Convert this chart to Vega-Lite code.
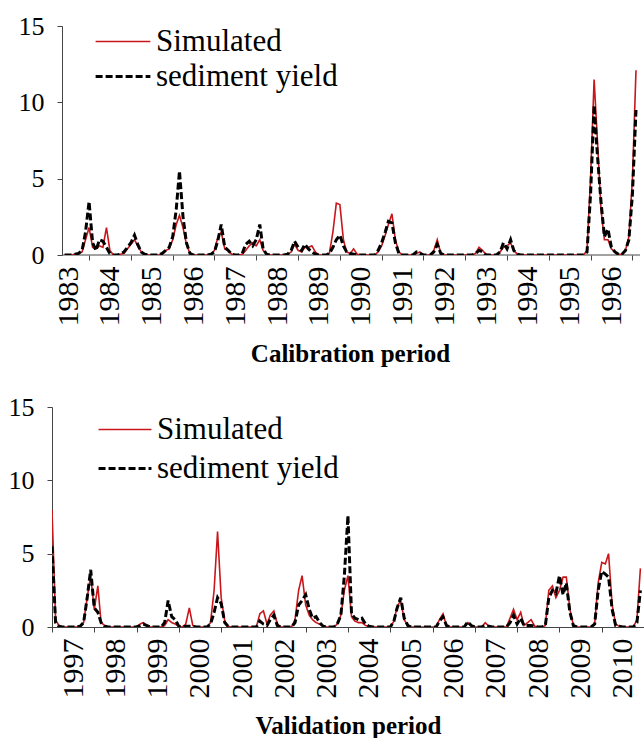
{
"$schema": "https://vega.github.io/schema/vega-lite/v6.json",
"background": "white",
"padding": {"left": 8, "top": 13, "right": 0, "bottom": 0},
"config": {
  "view": {"stroke": null},
  "font": "Liberation Serif, Times New Roman, Times, DejaVu Serif, serif",
  "axis": {"domainColor": "#444", "tickColor": "#444", "labelColor": "#000", "labelFont": "Liberation Serif, Times New Roman, Times, DejaVu Serif, serif", "titleFont": "Liberation Serif, Times New Roman, Times, DejaVu Serif, serif", "titleColor": "#000", "grid": false, "tickSize": 5},
  "legend": {"labelFont": "Liberation Serif, Times New Roman, Times, DejaVu Serif, serif", "labelColor": "#000", "labelLimit": 400}
},
"datasets": {
"cal": [
{"date":"1983-06-01","Simulated":0,"sediment yield":0},
{"date":"1983-07-01","Simulated":0,"sediment yield":0},
{"date":"1983-08-01","Simulated":0,"sediment yield":0},
{"date":"1983-09-01","Simulated":0.05,"sediment yield":0.05},
{"date":"1983-10-01","Simulated":0.1,"sediment yield":0.1},
{"date":"1983-11-01","Simulated":0.2,"sediment yield":0.3},
{"date":"1983-12-01","Simulated":1.0,"sediment yield":1.5},
{"date":"1984-01-01","Simulated":1.8,"sediment yield":3.5},
{"date":"1984-02-01","Simulated":0.5,"sediment yield":0.8},
{"date":"1984-03-01","Simulated":0.4,"sediment yield":0.3},
{"date":"1984-04-01","Simulated":0.6,"sediment yield":1.0},
{"date":"1984-05-01","Simulated":0.5,"sediment yield":0.9},
{"date":"1984-06-01","Simulated":1.8,"sediment yield":0.5},
{"date":"1984-07-01","Simulated":0.3,"sediment yield":0.1},
{"date":"1984-08-01","Simulated":0,"sediment yield":0},
{"date":"1984-09-01","Simulated":0,"sediment yield":0},
{"date":"1984-10-01","Simulated":0.05,"sediment yield":0.05},
{"date":"1984-11-01","Simulated":0.1,"sediment yield":0.2},
{"date":"1984-12-01","Simulated":0.4,"sediment yield":0.5},
{"date":"1985-01-01","Simulated":0.7,"sediment yield":0.8},
{"date":"1985-02-01","Simulated":1.0,"sediment yield":1.3},
{"date":"1985-03-01","Simulated":0.6,"sediment yield":0.7},
{"date":"1985-04-01","Simulated":0.2,"sediment yield":0.2},
{"date":"1985-05-01","Simulated":0.05,"sediment yield":0.05},
{"date":"1985-06-01","Simulated":0,"sediment yield":0},
{"date":"1985-07-01","Simulated":0,"sediment yield":0},
{"date":"1985-08-01","Simulated":0,"sediment yield":0},
{"date":"1985-09-01","Simulated":0,"sediment yield":0},
{"date":"1985-10-01","Simulated":0.1,"sediment yield":0.1},
{"date":"1985-11-01","Simulated":0.3,"sediment yield":0.3},
{"date":"1985-12-01","Simulated":0.4,"sediment yield":0.5},
{"date":"1986-01-01","Simulated":1.0,"sediment yield":1.2},
{"date":"1986-02-01","Simulated":2.0,"sediment yield":3.0},
{"date":"1986-03-01","Simulated":2.6,"sediment yield":5.5},
{"date":"1986-04-01","Simulated":1.8,"sediment yield":2.5},
{"date":"1986-05-01","Simulated":0.7,"sediment yield":0.8},
{"date":"1986-06-01","Simulated":0.1,"sediment yield":0.1},
{"date":"1986-07-01","Simulated":0,"sediment yield":0},
{"date":"1986-08-01","Simulated":0,"sediment yield":0},
{"date":"1986-09-01","Simulated":0,"sediment yield":0},
{"date":"1986-10-01","Simulated":0,"sediment yield":0},
{"date":"1986-11-01","Simulated":0,"sediment yield":0},
{"date":"1986-12-01","Simulated":0.05,"sediment yield":0.05},
{"date":"1987-01-01","Simulated":0.3,"sediment yield":0.2},
{"date":"1987-02-01","Simulated":1.2,"sediment yield":1.0},
{"date":"1987-03-01","Simulated":1.5,"sediment yield":2.0},
{"date":"1987-04-01","Simulated":0.4,"sediment yield":0.5},
{"date":"1987-05-01","Simulated":0.3,"sediment yield":0.3},
{"date":"1987-06-01","Simulated":0.05,"sediment yield":0.05},
{"date":"1987-07-01","Simulated":0,"sediment yield":0},
{"date":"1987-08-01","Simulated":0,"sediment yield":0},
{"date":"1987-09-01","Simulated":0.05,"sediment yield":0.1},
{"date":"1987-10-01","Simulated":0.3,"sediment yield":0.7},
{"date":"1987-11-01","Simulated":0.6,"sediment yield":0.9},
{"date":"1987-12-01","Simulated":0.8,"sediment yield":0.6},
{"date":"1988-01-01","Simulated":0.6,"sediment yield":1.0},
{"date":"1988-02-01","Simulated":1.0,"sediment yield":2.0},
{"date":"1988-03-01","Simulated":0.3,"sediment yield":0.4},
{"date":"1988-04-01","Simulated":0.05,"sediment yield":0.05},
{"date":"1988-05-01","Simulated":0,"sediment yield":0},
{"date":"1988-06-01","Simulated":0,"sediment yield":0},
{"date":"1988-07-01","Simulated":0,"sediment yield":0},
{"date":"1988-08-01","Simulated":0,"sediment yield":0},
{"date":"1988-09-01","Simulated":0,"sediment yield":0},
{"date":"1988-10-01","Simulated":0.05,"sediment yield":0.05},
{"date":"1988-11-01","Simulated":0.2,"sediment yield":0.3},
{"date":"1988-12-01","Simulated":0.7,"sediment yield":0.9},
{"date":"1989-01-01","Simulated":0.3,"sediment yield":0.5},
{"date":"1989-02-01","Simulated":0.2,"sediment yield":0.3},
{"date":"1989-03-01","Simulated":0.5,"sediment yield":0.7},
{"date":"1989-04-01","Simulated":0.5,"sediment yield":0.4},
{"date":"1989-05-01","Simulated":0.6,"sediment yield":0.2},
{"date":"1989-06-01","Simulated":0.2,"sediment yield":0.05},
{"date":"1989-07-01","Simulated":0,"sediment yield":0},
{"date":"1989-08-01","Simulated":0,"sediment yield":0},
{"date":"1989-09-01","Simulated":0,"sediment yield":0},
{"date":"1989-10-01","Simulated":0.1,"sediment yield":0.1},
{"date":"1989-11-01","Simulated":1.5,"sediment yield":0.5},
{"date":"1989-12-01","Simulated":3.4,"sediment yield":1.0},
{"date":"1990-01-01","Simulated":3.3,"sediment yield":1.3},
{"date":"1990-02-01","Simulated":1.0,"sediment yield":0.6},
{"date":"1990-03-01","Simulated":0.2,"sediment yield":0.2},
{"date":"1990-04-01","Simulated":0.1,"sediment yield":0.1},
{"date":"1990-05-01","Simulated":0.4,"sediment yield":0.05},
{"date":"1990-06-01","Simulated":0.05,"sediment yield":0},
{"date":"1990-07-01","Simulated":0,"sediment yield":0},
{"date":"1990-08-01","Simulated":0,"sediment yield":0},
{"date":"1990-09-01","Simulated":0,"sediment yield":0},
{"date":"1990-10-01","Simulated":0,"sediment yield":0},
{"date":"1990-11-01","Simulated":0,"sediment yield":0},
{"date":"1990-12-01","Simulated":0.2,"sediment yield":0.3},
{"date":"1991-01-01","Simulated":0.6,"sediment yield":0.8},
{"date":"1991-02-01","Simulated":1.3,"sediment yield":1.5},
{"date":"1991-03-01","Simulated":2.0,"sediment yield":2.2},
{"date":"1991-04-01","Simulated":2.7,"sediment yield":2.1},
{"date":"1991-05-01","Simulated":1.0,"sediment yield":0.8},
{"date":"1991-06-01","Simulated":0.2,"sediment yield":0.1},
{"date":"1991-07-01","Simulated":0,"sediment yield":0},
{"date":"1991-08-01","Simulated":0,"sediment yield":0},
{"date":"1991-09-01","Simulated":0,"sediment yield":0},
{"date":"1991-10-01","Simulated":0,"sediment yield":0},
{"date":"1991-11-01","Simulated":0.1,"sediment yield":0.2},
{"date":"1991-12-01","Simulated":0.2,"sediment yield":0.1},
{"date":"1992-01-01","Simulated":0,"sediment yield":0},
{"date":"1992-02-01","Simulated":0,"sediment yield":0},
{"date":"1992-03-01","Simulated":0,"sediment yield":0},
{"date":"1992-04-01","Simulated":0.3,"sediment yield":0.2},
{"date":"1992-05-01","Simulated":1.0,"sediment yield":0.7},
{"date":"1992-06-01","Simulated":0.1,"sediment yield":0.1},
{"date":"1992-07-01","Simulated":0,"sediment yield":0},
{"date":"1992-08-01","Simulated":0,"sediment yield":0},
{"date":"1992-09-01","Simulated":0,"sediment yield":0},
{"date":"1992-10-01","Simulated":0,"sediment yield":0},
{"date":"1992-11-01","Simulated":0,"sediment yield":0},
{"date":"1992-12-01","Simulated":0,"sediment yield":0},
{"date":"1993-01-01","Simulated":0,"sediment yield":0},
{"date":"1993-02-01","Simulated":0,"sediment yield":0},
{"date":"1993-03-01","Simulated":0,"sediment yield":0},
{"date":"1993-04-01","Simulated":0.1,"sediment yield":0.1},
{"date":"1993-05-01","Simulated":0.5,"sediment yield":0.3},
{"date":"1993-06-01","Simulated":0.3,"sediment yield":0.2},
{"date":"1993-07-01","Simulated":0.05,"sediment yield":0},
{"date":"1993-08-01","Simulated":0,"sediment yield":0},
{"date":"1993-09-01","Simulated":0,"sediment yield":0},
{"date":"1993-10-01","Simulated":0,"sediment yield":0},
{"date":"1993-11-01","Simulated":0.2,"sediment yield":0.2},
{"date":"1993-12-01","Simulated":0.5,"sediment yield":0.8},
{"date":"1994-01-01","Simulated":0.6,"sediment yield":0.4},
{"date":"1994-02-01","Simulated":0.8,"sediment yield":1.0},
{"date":"1994-03-01","Simulated":0.3,"sediment yield":0.3},
{"date":"1994-04-01","Simulated":0.05,"sediment yield":0.05},
{"date":"1994-05-01","Simulated":0,"sediment yield":0},
{"date":"1994-06-01","Simulated":0,"sediment yield":0},
{"date":"1994-07-01","Simulated":0,"sediment yield":0},
{"date":"1994-08-01","Simulated":0,"sediment yield":0},
{"date":"1994-09-01","Simulated":0,"sediment yield":0},
{"date":"1994-10-01","Simulated":0,"sediment yield":0},
{"date":"1994-11-01","Simulated":0,"sediment yield":0},
{"date":"1994-12-01","Simulated":0,"sediment yield":0},
{"date":"1995-01-01","Simulated":0,"sediment yield":0},
{"date":"1995-02-01","Simulated":0,"sediment yield":0},
{"date":"1995-03-01","Simulated":0,"sediment yield":0},
{"date":"1995-04-01","Simulated":0,"sediment yield":0},
{"date":"1995-05-01","Simulated":0,"sediment yield":0},
{"date":"1995-06-01","Simulated":0,"sediment yield":0},
{"date":"1995-07-01","Simulated":0,"sediment yield":0},
{"date":"1995-08-01","Simulated":0,"sediment yield":0},
{"date":"1995-09-01","Simulated":0,"sediment yield":0},
{"date":"1995-10-01","Simulated":0,"sediment yield":0},
{"date":"1995-11-01","Simulated":0,"sediment yield":0},
{"date":"1995-12-01","Simulated":0.3,"sediment yield":0.2},
{"date":"1996-01-01","Simulated":5.0,"sediment yield":4.0},
{"date":"1996-02-01","Simulated":11.5,"sediment yield":9.8},
{"date":"1996-03-01","Simulated":7.5,"sediment yield":6.5},
{"date":"1996-04-01","Simulated":3.0,"sediment yield":3.5},
{"date":"1996-05-01","Simulated":1.0,"sediment yield":1.2},
{"date":"1996-06-01","Simulated":1.0,"sediment yield":1.7},
{"date":"1996-07-01","Simulated":0.4,"sediment yield":0.5},
{"date":"1996-08-01","Simulated":0.2,"sediment yield":0.2},
{"date":"1996-09-01","Simulated":0.05,"sediment yield":0.05},
{"date":"1996-10-01","Simulated":0.05,"sediment yield":0.05},
{"date":"1996-11-01","Simulated":0.3,"sediment yield":0.3},
{"date":"1996-12-01","Simulated":1.2,"sediment yield":1.0},
{"date":"1997-01-01","Simulated":5.0,"sediment yield":4.0},
{"date":"1997-02-01","Simulated":12.1,"sediment yield":9.5}
],
"val": [
{"date":"1997-01-01","Simulated":8.0,"sediment yield":5.5},
{"date":"1997-02-01","Simulated":0.5,"sediment yield":0.3},
{"date":"1997-03-01","Simulated":0.1,"sediment yield":0.05},
{"date":"1997-04-01","Simulated":0,"sediment yield":0},
{"date":"1997-05-01","Simulated":0,"sediment yield":0},
{"date":"1997-06-01","Simulated":0,"sediment yield":0},
{"date":"1997-07-01","Simulated":0,"sediment yield":0},
{"date":"1997-08-01","Simulated":0,"sediment yield":0},
{"date":"1997-09-01","Simulated":0.05,"sediment yield":0.05},
{"date":"1997-10-01","Simulated":0.3,"sediment yield":0.3},
{"date":"1997-11-01","Simulated":2.0,"sediment yield":2.0},
{"date":"1997-12-01","Simulated":3.5,"sediment yield":3.9},
{"date":"1998-01-01","Simulated":1.2,"sediment yield":1.3},
{"date":"1998-02-01","Simulated":2.8,"sediment yield":1.0},
{"date":"1998-03-01","Simulated":0.3,"sediment yield":0.3},
{"date":"1998-04-01","Simulated":0.1,"sediment yield":0.05},
{"date":"1998-05-01","Simulated":0,"sediment yield":0},
{"date":"1998-06-01","Simulated":0,"sediment yield":0},
{"date":"1998-07-01","Simulated":0,"sediment yield":0},
{"date":"1998-08-01","Simulated":0,"sediment yield":0},
{"date":"1998-09-01","Simulated":0,"sediment yield":0},
{"date":"1998-10-01","Simulated":0,"sediment yield":0},
{"date":"1998-11-01","Simulated":0,"sediment yield":0},
{"date":"1998-12-01","Simulated":0,"sediment yield":0},
{"date":"1999-01-01","Simulated":0,"sediment yield":0},
{"date":"1999-02-01","Simulated":0.2,"sediment yield":0.1},
{"date":"1999-03-01","Simulated":0.3,"sediment yield":0.2},
{"date":"1999-04-01","Simulated":0.1,"sediment yield":0.1},
{"date":"1999-05-01","Simulated":0,"sediment yield":0},
{"date":"1999-06-01","Simulated":0,"sediment yield":0},
{"date":"1999-07-01","Simulated":0,"sediment yield":0},
{"date":"1999-08-01","Simulated":0,"sediment yield":0},
{"date":"1999-09-01","Simulated":0.1,"sediment yield":0.3},
{"date":"1999-10-01","Simulated":0.5,"sediment yield":1.8},
{"date":"1999-11-01","Simulated":0.3,"sediment yield":0.7},
{"date":"1999-12-01","Simulated":0.2,"sediment yield":0.5},
{"date":"2000-01-01","Simulated":0.05,"sediment yield":0.05},
{"date":"2000-02-01","Simulated":0,"sediment yield":0},
{"date":"2000-03-01","Simulated":0.2,"sediment yield":0.05},
{"date":"2000-04-01","Simulated":1.3,"sediment yield":0.05},
{"date":"2000-05-01","Simulated":0.1,"sediment yield":0.05},
{"date":"2000-06-01","Simulated":0,"sediment yield":0},
{"date":"2000-07-01","Simulated":0,"sediment yield":0},
{"date":"2000-08-01","Simulated":0,"sediment yield":0},
{"date":"2000-09-01","Simulated":0,"sediment yield":0},
{"date":"2000-10-01","Simulated":0.3,"sediment yield":0.2},
{"date":"2000-11-01","Simulated":2.5,"sediment yield":1.0},
{"date":"2000-12-01","Simulated":6.5,"sediment yield":2.0},
{"date":"2001-01-01","Simulated":2.0,"sediment yield":1.6},
{"date":"2001-02-01","Simulated":0.4,"sediment yield":0.3},
{"date":"2001-03-01","Simulated":0.05,"sediment yield":0.05},
{"date":"2001-04-01","Simulated":0,"sediment yield":0},
{"date":"2001-05-01","Simulated":0,"sediment yield":0},
{"date":"2001-06-01","Simulated":0,"sediment yield":0},
{"date":"2001-07-01","Simulated":0,"sediment yield":0},
{"date":"2001-08-01","Simulated":0,"sediment yield":0},
{"date":"2001-09-01","Simulated":0,"sediment yield":0},
{"date":"2001-10-01","Simulated":0,"sediment yield":0},
{"date":"2001-11-01","Simulated":0,"sediment yield":0},
{"date":"2001-12-01","Simulated":0.9,"sediment yield":0.4},
{"date":"2002-01-01","Simulated":1.1,"sediment yield":0.2},
{"date":"2002-02-01","Simulated":0.2,"sediment yield":0.1},
{"date":"2002-03-01","Simulated":0.8,"sediment yield":0.5},
{"date":"2002-04-01","Simulated":1.1,"sediment yield":0.8},
{"date":"2002-05-01","Simulated":0.2,"sediment yield":0.1},
{"date":"2002-06-01","Simulated":0,"sediment yield":0},
{"date":"2002-07-01","Simulated":0,"sediment yield":0},
{"date":"2002-08-01","Simulated":0,"sediment yield":0},
{"date":"2002-09-01","Simulated":0,"sediment yield":0},
{"date":"2002-10-01","Simulated":0.5,"sediment yield":0.3},
{"date":"2002-11-01","Simulated":2.5,"sediment yield":1.5},
{"date":"2002-12-01","Simulated":3.5,"sediment yield":1.8},
{"date":"2003-01-01","Simulated":1.5,"sediment yield":2.2},
{"date":"2003-02-01","Simulated":0.8,"sediment yield":1.2},
{"date":"2003-03-01","Simulated":0.5,"sediment yield":0.6},
{"date":"2003-04-01","Simulated":0.3,"sediment yield":0.7},
{"date":"2003-05-01","Simulated":0.2,"sediment yield":0.3},
{"date":"2003-06-01","Simulated":0.05,"sediment yield":0.05},
{"date":"2003-07-01","Simulated":0,"sediment yield":0},
{"date":"2003-08-01","Simulated":0,"sediment yield":0},
{"date":"2003-09-01","Simulated":0,"sediment yield":0},
{"date":"2003-10-01","Simulated":0.2,"sediment yield":0.2},
{"date":"2003-11-01","Simulated":0.8,"sediment yield":0.8},
{"date":"2003-12-01","Simulated":2.5,"sediment yield":3.5},
{"date":"2004-01-01","Simulated":3.5,"sediment yield":7.6},
{"date":"2004-02-01","Simulated":0.7,"sediment yield":0.9},
{"date":"2004-03-01","Simulated":0.4,"sediment yield":0.6},
{"date":"2004-04-01","Simulated":0.3,"sediment yield":0.5},
{"date":"2004-05-01","Simulated":0.3,"sediment yield":0.6},
{"date":"2004-06-01","Simulated":0.1,"sediment yield":0.2},
{"date":"2004-07-01","Simulated":0.05,"sediment yield":0.05},
{"date":"2004-08-01","Simulated":0,"sediment yield":0},
{"date":"2004-09-01","Simulated":0,"sediment yield":0},
{"date":"2004-10-01","Simulated":0,"sediment yield":0},
{"date":"2004-11-01","Simulated":0,"sediment yield":0},
{"date":"2004-12-01","Simulated":0,"sediment yield":0},
{"date":"2005-01-01","Simulated":0,"sediment yield":0},
{"date":"2005-02-01","Simulated":0.4,"sediment yield":0.4},
{"date":"2005-03-01","Simulated":1.4,"sediment yield":1.3},
{"date":"2005-04-01","Simulated":1.8,"sediment yield":2.0},
{"date":"2005-05-01","Simulated":0.5,"sediment yield":0.6},
{"date":"2005-06-01","Simulated":0.1,"sediment yield":0.1},
{"date":"2005-07-01","Simulated":0,"sediment yield":0},
{"date":"2005-08-01","Simulated":0,"sediment yield":0},
{"date":"2005-09-01","Simulated":0,"sediment yield":0},
{"date":"2005-10-01","Simulated":0,"sediment yield":0},
{"date":"2005-11-01","Simulated":0,"sediment yield":0},
{"date":"2005-12-01","Simulated":0,"sediment yield":0},
{"date":"2006-01-01","Simulated":0,"sediment yield":0},
{"date":"2006-02-01","Simulated":0,"sediment yield":0},
{"date":"2006-03-01","Simulated":0.5,"sediment yield":0.4},
{"date":"2006-04-01","Simulated":0.9,"sediment yield":0.7},
{"date":"2006-05-01","Simulated":0.1,"sediment yield":0.1},
{"date":"2006-06-01","Simulated":0,"sediment yield":0},
{"date":"2006-07-01","Simulated":0,"sediment yield":0},
{"date":"2006-08-01","Simulated":0,"sediment yield":0},
{"date":"2006-09-01","Simulated":0,"sediment yield":0},
{"date":"2006-10-01","Simulated":0,"sediment yield":0},
{"date":"2006-11-01","Simulated":0.3,"sediment yield":0.35},
{"date":"2006-12-01","Simulated":0.1,"sediment yield":0.1},
{"date":"2007-01-01","Simulated":0,"sediment yield":0},
{"date":"2007-02-01","Simulated":0,"sediment yield":0},
{"date":"2007-03-01","Simulated":0,"sediment yield":0},
{"date":"2007-04-01","Simulated":0.3,"sediment yield":0.1},
{"date":"2007-05-01","Simulated":0.05,"sediment yield":0.05},
{"date":"2007-06-01","Simulated":0,"sediment yield":0},
{"date":"2007-07-01","Simulated":0,"sediment yield":0},
{"date":"2007-08-01","Simulated":0,"sediment yield":0},
{"date":"2007-09-01","Simulated":0,"sediment yield":0},
{"date":"2007-10-01","Simulated":0,"sediment yield":0},
{"date":"2007-11-01","Simulated":0.6,"sediment yield":0.3},
{"date":"2007-12-01","Simulated":1.2,"sediment yield":0.8},
{"date":"2008-01-01","Simulated":0.5,"sediment yield":0.2},
{"date":"2008-02-01","Simulated":1.0,"sediment yield":0.6},
{"date":"2008-03-01","Simulated":0.1,"sediment yield":0.1},
{"date":"2008-04-01","Simulated":0.3,"sediment yield":0.1},
{"date":"2008-05-01","Simulated":0.5,"sediment yield":0.1},
{"date":"2008-06-01","Simulated":0.05,"sediment yield":0.05},
{"date":"2008-07-01","Simulated":0,"sediment yield":0},
{"date":"2008-08-01","Simulated":0,"sediment yield":0},
{"date":"2008-09-01","Simulated":0.1,"sediment yield":0.1},
{"date":"2008-10-01","Simulated":2.5,"sediment yield":2.0},
{"date":"2008-11-01","Simulated":2.8,"sediment yield":2.5},
{"date":"2008-12-01","Simulated":2.0,"sediment yield":2.3},
{"date":"2009-01-01","Simulated":2.5,"sediment yield":3.5},
{"date":"2009-02-01","Simulated":3.4,"sediment yield":2.2},
{"date":"2009-03-01","Simulated":3.4,"sediment yield":3.0},
{"date":"2009-04-01","Simulated":1.2,"sediment yield":1.0},
{"date":"2009-05-01","Simulated":0.1,"sediment yield":0.1},
{"date":"2009-06-01","Simulated":0,"sediment yield":0},
{"date":"2009-07-01","Simulated":0,"sediment yield":0},
{"date":"2009-08-01","Simulated":0,"sediment yield":0},
{"date":"2009-09-01","Simulated":0,"sediment yield":0},
{"date":"2009-10-01","Simulated":0,"sediment yield":0},
{"date":"2009-11-01","Simulated":0.2,"sediment yield":0.2},
{"date":"2009-12-01","Simulated":3.0,"sediment yield":2.5},
{"date":"2010-01-01","Simulated":4.4,"sediment yield":3.8},
{"date":"2010-02-01","Simulated":4.3,"sediment yield":3.6},
{"date":"2010-03-01","Simulated":5.0,"sediment yield":3.4},
{"date":"2010-04-01","Simulated":1.5,"sediment yield":1.2},
{"date":"2010-05-01","Simulated":0.2,"sediment yield":0.1},
{"date":"2010-06-01","Simulated":0.05,"sediment yield":0.05},
{"date":"2010-07-01","Simulated":0,"sediment yield":0},
{"date":"2010-08-01","Simulated":0,"sediment yield":0},
{"date":"2010-09-01","Simulated":0,"sediment yield":0},
{"date":"2010-10-01","Simulated":0,"sediment yield":0},
{"date":"2010-11-01","Simulated":0.5,"sediment yield":0.3},
{"date":"2010-12-01","Simulated":4.0,"sediment yield":2.5}
]
},
"spacing": 28,
"resolve": {
  "scale": {"color": "independent", "strokeDash": "independent", "strokeWidth": "independent", "x": "independent", "y": "independent"},
  "legend": {"color": "independent", "strokeDash": "independent"}
},
"vconcat": [
{
  "width": 588, "height": 229,
  "layer": [
    {
      "data": {"values": [{}]},
      "mark": {"type": "rule", "color": "#444", "strokeWidth": 1},
      "encoding": {
        "x": {"datum": {"year": 1983, "month": 5, "date": 10, "utc": true}, "type": "temporal"},
        "x2": {"datum": {"year": 1997, "month": 3, "date": 8, "utc": true}},
        "y": {"datum": 0, "type": "quantitative"}
      }
    },
    {
      "data": {"name": "cal"},
      "transform": [{"fold": ["Simulated", "sediment yield"], "as": ["series", "value"]}],
      "mark": {"type": "line", "clip": true},
      "encoding": {
        "x": {"field": "date", "type": "temporal",
          "scale": {"type": "utc", "nice": false, "domain": [{"year": 1983, "month": 2, "date": 11, "utc": true}, {"year": 1997, "month": 3, "date": 8, "utc": true}]},
          "axis": {"domain": false, "values": [
            {"year":1984,"month":1,"date":1,"utc":true},{"year":1985,"month":1,"date":1,"utc":true},{"year":1986,"month":1,"date":1,"utc":true},{"year":1987,"month":1,"date":1,"utc":true},{"year":1988,"month":1,"date":1,"utc":true},{"year":1989,"month":1,"date":1,"utc":true},{"year":1990,"month":1,"date":1,"utc":true},{"year":1991,"month":1,"date":1,"utc":true},{"year":1992,"month":1,"date":1,"utc":true},{"year":1993,"month":1,"date":1,"utc":true},{"year":1994,"month":1,"date":1,"utc":true},{"year":1995,"month":1,"date":1,"utc":true},{"year":1996,"month":1,"date":1,"utc":true},{"year":1997,"month":1,"date":1,"utc":true}],
            "labelExpr": "utcyear(datum.value) - 1",
            "labelAngle": -90, "labelOffset": -21, "labelFontSize": 30, "labelPadding": 6,
            "labelFlush": false, "labelOverlap": false,
            "title": "Calibration period", "titleFontSize": 25, "titleFontWeight": "bold", "titlePadding": 15, "titleX": 298}},
        "y": {"field": "value", "type": "quantitative", "scale": {"domain": [0, 15], "nice": false, "zero": true},
          "axis": {"values": [0, 5, 10, 15], "title": null, "labelFontSize": 26, "labelPadding": 13, "offset": -10}},
        "color": {"field": "series", "type": "nominal",
          "scale": {"domain": ["Simulated", "sediment yield"], "range": ["#c8161b", "#000000"]},
          "legend": {"title": null, "orient": "none", "legendX": 42, "legendY": -2, "symbolType": "stroke", "symbolSize": 3000, "symbolStrokeWidth": 5, "labelFontSize": 31, "labelOffset": 4, "rowPadding": 0, "clipHeight": 35}},
        "strokeDash": {"field": "series", "type": "nominal",
          "scale": {"domain": ["Simulated", "sediment yield"], "range": [[1, 0], [7, 3]]},
          "legend": {"title": null, "orient": "none", "legendX": 42, "legendY": -2, "symbolType": "stroke", "symbolSize": 3000, "symbolStrokeWidth": 5, "labelFontSize": 31, "labelOffset": 4, "rowPadding": 0, "clipHeight": 35}},
        "strokeWidth": {"field": "series", "type": "nominal",
          "scale": {"domain": ["Simulated", "sediment yield"], "range": [1.6, 3]}, "legend": null}
      }
    }
  ]
},
{
  "width": 592, "height": 220,
  "data": {"name": "val"},
  "transform": [{"fold": ["Simulated", "sediment yield"], "as": ["series", "value"]}],
  "mark": {"type": "line", "clip": true},
  "encoding": {
    "x": {"field": "date", "type": "temporal",
      "scale": {"type": "utc", "nice": false, "domain": [{"year": 1997, "month": 1, "date": 1, "utc": true}, {"year": 2011, "month": 1, "date": 1, "utc": true}]},
      "axis": {"values": [
        {"year":1997,"month":1,"date":1,"utc":true},{"year":1998,"month":1,"date":1,"utc":true},{"year":1999,"month":1,"date":1,"utc":true},{"year":2000,"month":1,"date":1,"utc":true},{"year":2001,"month":1,"date":1,"utc":true},{"year":2002,"month":1,"date":1,"utc":true},{"year":2003,"month":1,"date":1,"utc":true},{"year":2004,"month":1,"date":1,"utc":true},{"year":2005,"month":1,"date":1,"utc":true},{"year":2006,"month":1,"date":1,"utc":true},{"year":2007,"month":1,"date":1,"utc":true},{"year":2008,"month":1,"date":1,"utc":true},{"year":2009,"month":1,"date":1,"utc":true},{"year":2010,"month":1,"date":1,"utc":true}],
        "labelExpr": "utcyear(datum.value)",
        "labelAngle": -90, "labelOffset": 21, "labelFontSize": 30, "labelPadding": 6,
        "labelFlush": false, "labelOverlap": false,
        "title": "Validation period", "titleFontSize": 25, "titleFontWeight": "bold", "titlePadding": 15}},
    "y": {"field": "value", "type": "quantitative", "scale": {"domain": [0, 15], "nice": false},
      "axis": {"values": [0, 5, 10, 15], "title": null, "labelFontSize": 26, "labelPadding": 13, "minExtent": 44}},
    "color": {"field": "series", "type": "nominal",
      "scale": {"domain": ["Simulated", "sediment yield"], "range": ["#c8161b", "#000000"]},
      "legend": {"title": null, "orient": "none", "legendX": 45, "legendY": 3, "symbolType": "stroke", "symbolSize": 2800, "symbolStrokeWidth": 5, "labelFontSize": 31, "labelOffset": 4, "rowPadding": 0, "clipHeight": 39}},
    "strokeDash": {"field": "series", "type": "nominal",
      "scale": {"domain": ["Simulated", "sediment yield"], "range": [[1, 0], [7, 3]]},
      "legend": {"title": null, "orient": "none", "legendX": 45, "legendY": 3, "symbolType": "stroke", "symbolSize": 2800, "symbolStrokeWidth": 5, "labelFontSize": 31, "labelOffset": 4, "rowPadding": 0, "clipHeight": 39}},
    "strokeWidth": {"field": "series", "type": "nominal",
      "scale": {"domain": ["Simulated", "sediment yield"], "range": [1.6, 3]}, "legend": null}
  }
}
]
}
